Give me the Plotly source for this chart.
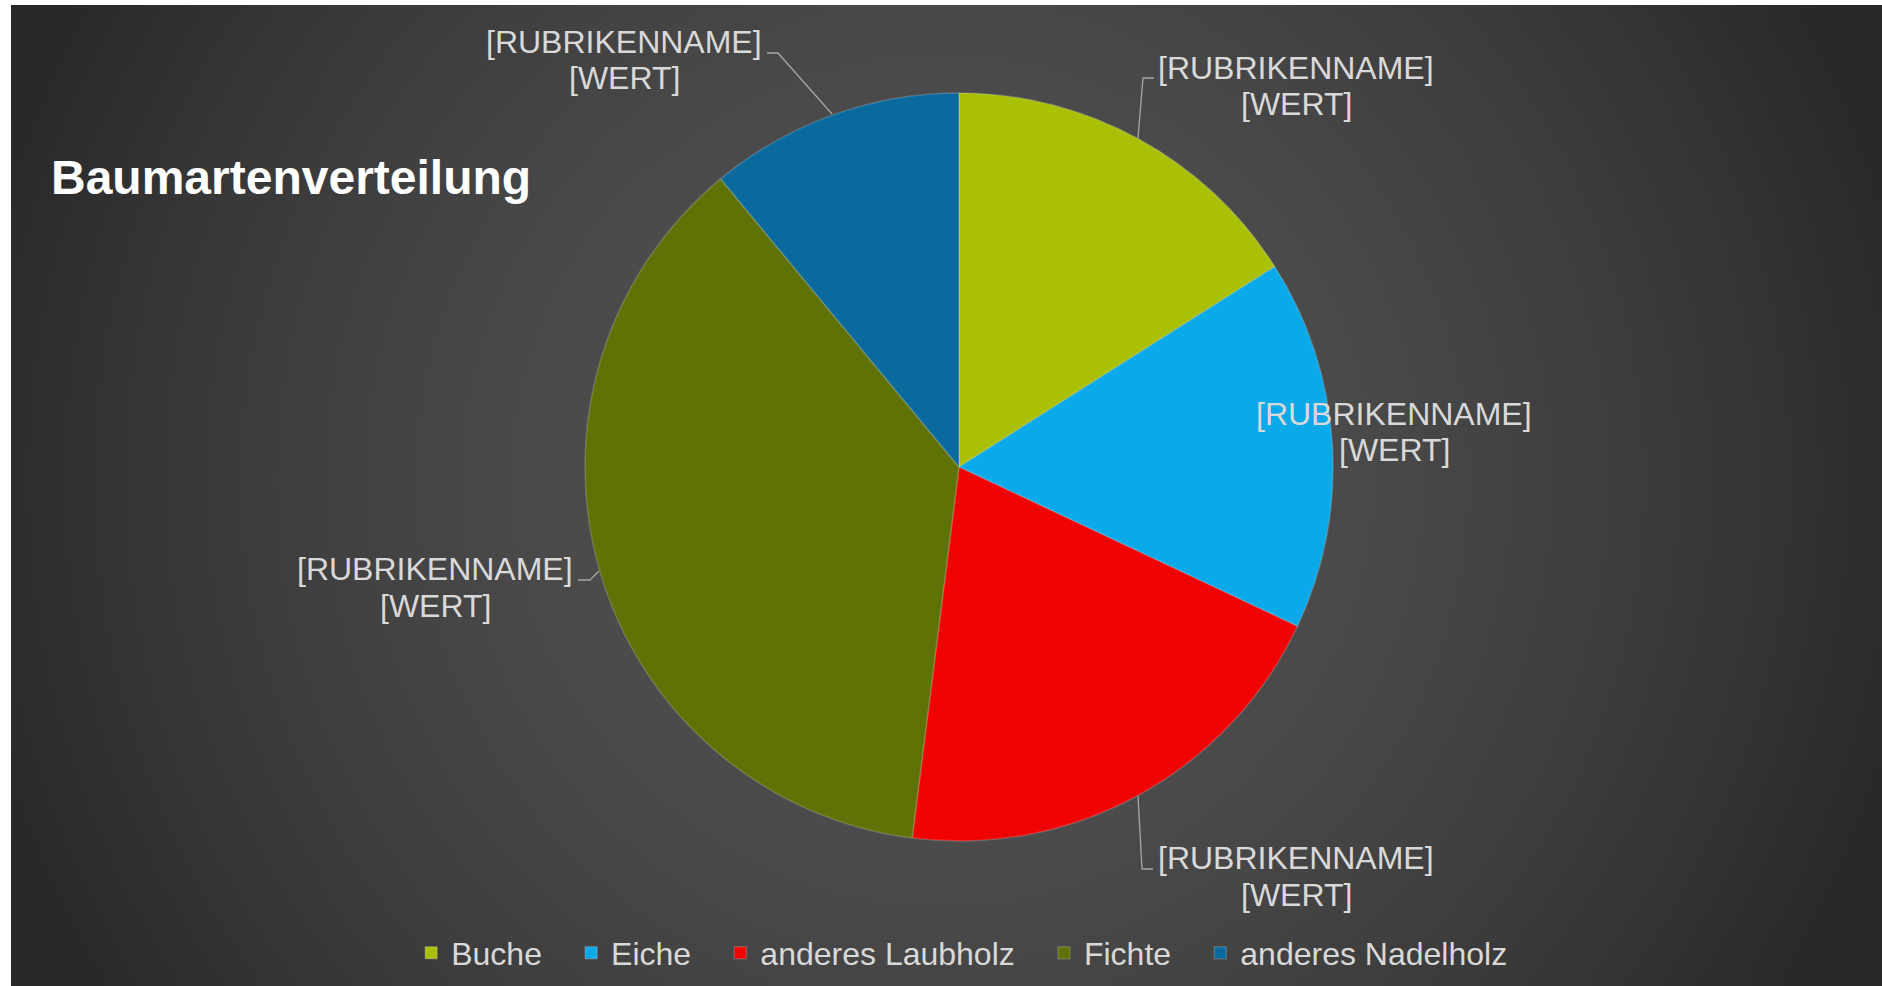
import base64
import struct
import zlib

import plotly.graph_objects as go

# data
baumarten = ["Buche", "Eiche", "anderes Laubholz", "Fichte", "anderes Nadelholz"]
anteile = [16, 16, 20, 37, 11]
farben = ["#a9c005", "#09a9ea", "#f00202", "#5f7206", "#0a699d"]
label_text = ["[RUBRIKENNAME]", "[WERT]"]

W, H = 1882, 986


def px(x, y):
    # pixel -> paper coords
    return x / W, 1 - y / H


# radial gradient background as a small png
def gradient_png(w, h):
    rows = []
    for j in range(h):
        row = bytearray()
        for i in range(w):
            x = 11 + (i + 0.5) * (W - 11) / w
            y = 5 + (j + 0.5) * (H - 5) / h
            t = min(((x - 941) ** 2 + (y - 480) ** 2) ** 0.5 / 1000, 1.0)
            row.append(int(round(40 + 42 * (1 - t ** 1.8))))
        rows.append(b"\x00" + bytes(row))

    def chunk(tag, data):
        c = struct.pack(">I", len(data)) + tag + data
        return c + struct.pack(">I", zlib.crc32(tag + data) & 0xffffffff)

    ihdr = struct.pack(">IIBBBBB", w, h, 8, 0, 0, 0, 0)
    png = b"\x89PNG\r\n\x1a\n" + chunk(b"IHDR", ihdr) + chunk(b"IDAT", zlib.compress(b"".join(rows))) + chunk(b"IEND", b"")
    return "data:image/png;base64," + base64.b64encode(png).decode()


x0, y1 = px(585, 93)
x1, y0 = px(1333, 841)

# a bit of extra room between legend entries (like excel)
legend_names = [b + "\u00a0" * 2 + "\u2009" if k < len(baumarten) - 1 else b for k, b in enumerate(baumarten)]

pie = go.Pie(
    labels=legend_names,
    values=anteile,
    sort=False,
    direction="clockwise",
    rotation=0,
    textinfo="none",
    marker=dict(colors=farben, line=dict(color="rgba(255,255,255,0.18)", width=1.5)),
    domain=dict(x=[x0, x1], y=[y0, y1]),
)

fig = go.Figure(pie)

# label positions (line centres, px) and leader lines
label_pos = [(1296, 68), (1394, 414), (1296, 858), (435, 569), (624, 42)]
leader = [
    [(1154, 78), (1143, 78), (1138, 138)],
    None,
    [(1138, 796), (1142, 869), (1153, 869)],
    [(578, 580), (590, 580), (599, 571)],
    [(767, 53), (778, 53), (832, 114)],
]

annotations = []
shapes = []
for (lx, ly), ll in zip(label_pos, leader):
    for k, txt in enumerate(label_text):
        ax, ay = px(lx, ly + k * 36.5)
        annotations.append(dict(
            text=txt, x=ax, y=ay, xref="paper", yref="paper",
            xanchor="center", yanchor="middle", showarrow=False,
            font=dict(size=32, color="#d9d9d9", family="Liberation Sans, Arial"),
        ))
    if ll:
        path = ""
        for n, (x, y) in enumerate(ll):
            qx, qy = px(x, y)
            path += ("M" if n == 0 else "L") + f"{qx},{qy} "
        shapes.append(dict(type="path", path=path, xref="paper", yref="paper",
                           line=dict(color="#a6a6a6", width=1.3)))

tx, ty = px(49, 177)
annotations.append(dict(
    text="<b>Baumartenverteilung</b>", x=tx, y=ty, xref="paper", yref="paper",
    xanchor="left", yanchor="middle", showarrow=False,
    font=dict(size=48, color="#ffffff", family="Liberation Sans, Arial"),
))

bx, by = px(11, 5)
fig.update_layout(
    width=W,
    height=H,
    margin=dict(l=0, r=0, t=0, b=0),
    paper_bgcolor="#ffffff",
    plot_bgcolor="rgba(0,0,0,0)",
    images=[dict(source=gradient_png(235, 123), xref="paper", yref="paper",
                 x=bx, y=by, sizex=1 - bx, sizey=by, xanchor="left", yanchor="top",
                 sizing="stretch", layer="below")],
    legend=dict(orientation="h", x=0.511, y=1 - 953 / H, xanchor="center", yanchor="middle",
                font=dict(size=32, color="#d9d9d9", family="Liberation Sans, Arial"),
                bgcolor="rgba(0,0,0,0)", itemwidth=30),
    annotations=annotations,
    shapes=shapes,
)

fig.write_html("out.html", config={"displayModeBar": False},
               post_script="document.body.style.margin='0';document.body.style.overflow='hidden';")
